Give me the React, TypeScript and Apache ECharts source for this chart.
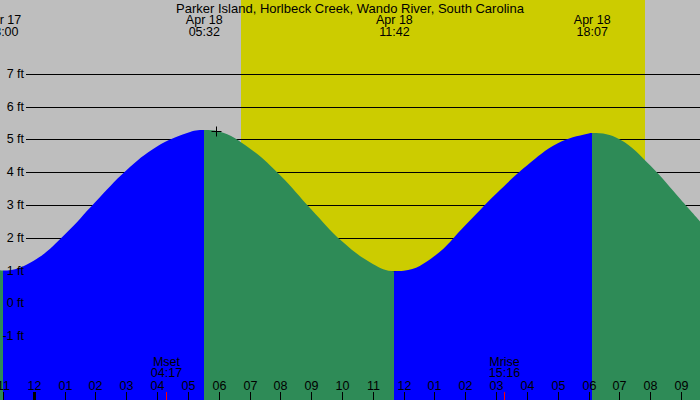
import React, { useEffect, useRef } from "react";
import * as echarts from "echarts";

const chartTitle = "Parker Island, Horlbeck Creek, Wando River, South Carolina";

// tide curve (hours from Apr 18 00:00, feet)
const tideHours = [-1.093, -1.0, 0, 1, 2, 3, 4, 5, 5.533, 6, 7, 8, 9, 10, 11, 11.7, 12, 13, 14, 15, 16, 17, 18, 18.117, 19, 20, 21, 21.612];
const tideFeet = [1.01, 1.0, 1.3, 2.09, 3.09, 4.05, 4.78, 5.2, 5.28, 5.24, 4.73, 3.9, 2.87, 1.89, 1.2, 0.98, 0.99, 1.44, 2.38, 3.34, 4.2, 4.88, 5.18, 5.19, 5.0, 4.2, 3.15, 2.5];

// high / low tide events
const extremeHours = [-1.0, 5.533, 11.7, 18.117];
const extremeFeet = [1.0, 5.28, 0.98, 5.19];
const extremeDates = ["Apr 17", "Apr 18", "Apr 18", "Apr 18"];
const extremeTimes = ["23:00", "05:32", "11:42", "18:07"];

// hour ticks
const hourTicks = [-1, 0, 1, 2, 3, 4, 5, 6, 7, 8, 9, 10, 11, 12, 13, 14, 15, 16, 17, 18, 19, 20, 21];
const hourLabels = ["11", "12", "01", "02", "03", "04", "05", "06", "07", "08", "09", "10", "11", "12", "01", "02", "03", "04", "05", "06", "07", "08", "09"];
const midnightHours = [0];

// height levels
const footLevels = [-1, 0, 1, 2, 3, 4, 5, 6, 7];

// moon events
const moonHours = [4.283, 15.267];
const moonNames = ["Mset", "Mrise"];
const moonTimes = ["04:17", "15:16"];

// daylight
const sunriseHour = 6.73;
const sunsetHour = 19.82;

// current marker
const nowHour = 5.9;
const nowFeet = 5.25;

const xMin = -1.093;
const xMax = 21.612;
const yMin = -2.948;
const yMax = 9.247;

const FONT = '12.5px "Liberation Sans", Arial, sans-serif';
const TITLE_FONT = '13px "Liberation Sans", Arial, sans-serif';
const BLUE = "#0000FF";
const GREEN = "#2E8B57";

export default function App() {
  const ref = useRef<HTMLDivElement>(null);
  useEffect(() => {
    if (!ref.current) return;
    const chart = echarts.init(ref.current, null, { renderer: "svg" });

    // colour pieces: rising -> blue, falling -> green
    const pieces: any[] = [];
    for (let i = 0; i <= extremeHours.length; i++) {
      let rising: boolean;
      if (i === 0) {
        rising = extremeFeet[0] > extremeFeet[1];
      } else if (i < extremeHours.length) {
        rising = extremeFeet[i] > extremeFeet[i - 1];
      } else {
        rising = extremeFeet[i - 1] < extremeFeet[i - 2];
      }
      const piece: any = { color: rising ? BLUE : GREEN };
      if (i > 0) piece.gte = extremeHours[i - 1];
      if (i < extremeHours.length) piece.lt = extremeHours[i];
      pieces.push(piece);
    }

    const option: any = {
      animation: false,
      backgroundColor: "#BEBEBE",
      grid: { left: 0, right: 0, top: 0, bottom: 0 },
      xAxis: { type: "value", min: xMin, max: xMax, show: false },
      yAxis: { type: "value", min: yMin, max: yMax, show: false },
      visualMap: {
        type: "piecewise",
        show: false,
        dimension: 0,
        seriesIndex: 2,
        pieces,
      },
      graphic: [
        {
          type: "text",
          x: 350,
          y: 8,
          z: 100,
          style: { text: chartTitle, font: TITLE_FONT, fill: "#000", align: "center", verticalAlign: "middle" },
        },
      ],
      series: [
        {
          type: "custom",
          z: 1,
          data: [[sunriseHour, sunsetHour]],
          encode: { x: [0, 1] },
          renderItem: (p: any, api: any) => {
            const a = api.coord([api.value(0), yMax]);
            const b = api.coord([api.value(1), yMin]);
            return {
              type: "rect",
              shape: { x: Math.round(a[0]), y: a[1], width: Math.round(b[0]) - Math.round(a[0]), height: b[1] - a[1] },
              style: { fill: "#CCCC00" },
            };
          },
        },
        {
          type: "custom",
          z: 2,
          data: footLevels.map((v) => [0, v]),
          encode: { x: 0, y: 1 },
          renderItem: (p: any, api: any) => {
            const y = Math.round(api.coord([0, api.value(1)])[1]) + 0.5;
            return {
              type: "line",
              shape: { x1: 26, y1: y, x2: api.getWidth(), y2: y },
              style: { stroke: "#000", lineWidth: 1 },
            };
          },
        },
        {
          type: "line",
          z: 3,
          data: tideHours.map((h, i) => [h, tideFeet[i]]),
          smooth: 0.4,
          symbol: "none",
          lineStyle: { opacity: 0, width: 0 },
          areaStyle: { opacity: 1, origin: "start" },
        },
        {
          type: "custom",
          z: 6,
          data: footLevels.map((v) => [0, v]),
          encode: { x: 0, y: 1 },
          renderItem: (p: any, api: any) => {
            const y = api.coord([0, api.value(1)])[1];
            return {
              type: "text",
              x: 24,
              y: y,
              style: { text: api.value(1) + " ft", font: FONT, fill: "#000", align: "right", verticalAlign: "middle" },
            };
          },
        },
        {
          type: "custom",
          z: 6,
          data: hourTicks.map((h, i) => [h, i]),
          encode: { x: 0 },
          renderItem: (p: any, api: any) => {
            const h = api.value(0);
            const idx = api.value(1);
            const x = Math.round(api.coord([h, 0])[0]) + 0.5;
            const H = api.getHeight();
            const thick = midnightHours.indexOf(h) >= 0;
            return {
              type: "group",
              children: [
                {
                  type: "line",
                  shape: { x1: x, y1: H - 8, x2: x, y2: H },
                  style: { stroke: "#000", lineWidth: thick ? 3 : 1 },
                },
                {
                  type: "text",
                  x: x,
                  y: H - 14,
                  style: { text: hourLabels[idx], font: FONT, fill: "#000", align: "center", verticalAlign: "middle" },
                },
              ],
            };
          },
        },
        {
          type: "custom",
          z: 6,
          data: moonHours.map((h, i) => [h, i]),
          encode: { x: 0 },
          renderItem: (p: any, api: any) => {
            const idx = api.value(1);
            const x = Math.round(api.coord([api.value(0), 0])[0]) + 0.5;
            const H = api.getHeight();
            return {
              type: "group",
              children: [
                {
                  type: "line",
                  shape: { x1: x, y1: H - 8, x2: x, y2: H },
                  style: { stroke: "#FF0000", lineWidth: 1 },
                },
                {
                  type: "text",
                  x: x,
                  y: H - 38.5,
                  style: { text: moonNames[idx], font: FONT, fill: "#000", align: "center", verticalAlign: "middle" },
                },
                {
                  type: "text",
                  x: x,
                  y: H - 27,
                  style: { text: moonTimes[idx], font: FONT, fill: "#000", align: "center", verticalAlign: "middle" },
                },
              ],
            };
          },
        },
        {
          type: "custom",
          z: 6,
          data: extremeHours.map((h, i) => [h, i]),
          encode: { x: 0 },
          renderItem: (p: any, api: any) => {
            const idx = api.value(1);
            const x = api.coord([api.value(0), 0])[0];
            return {
              type: "group",
              children: [
                {
                  type: "text",
                  x: x,
                  y: 20,
                  style: { text: extremeDates[idx], font: FONT, fill: "#000", align: "center", verticalAlign: "middle" },
                },
                {
                  type: "text",
                  x: x,
                  y: 31.5,
                  style: { text: extremeTimes[idx], font: FONT, fill: "#000", align: "center", verticalAlign: "middle" },
                },
              ],
            };
          },
        },
        {
          type: "custom",
          z: 7,
          data: [[nowHour, nowFeet]],
          encode: { x: 0, y: 1 },
          renderItem: (p: any, api: any) => {
            const c = api.coord([api.value(0), api.value(1)]);
            const x = Math.round(c[0]) + 0.5;
            const y = Math.round(c[1]) + 0.5;
            return {
              type: "group",
              children: [
                { type: "line", shape: { x1: x - 5, y1: y, x2: x + 5, y2: y }, style: { stroke: "#000", lineWidth: 1 } },
                { type: "line", shape: { x1: x, y1: y - 5, x2: x, y2: y + 5 }, style: { stroke: "#000", lineWidth: 1 } },
              ],
            };
          },
        },
      ],
    };
    chart.setOption(option);
    return () => chart.dispose();
  }, []);
  return <div ref={ref} style={{ position: "fixed", left: 0, top: 0, width: 700, height: 400 }} />;
}
